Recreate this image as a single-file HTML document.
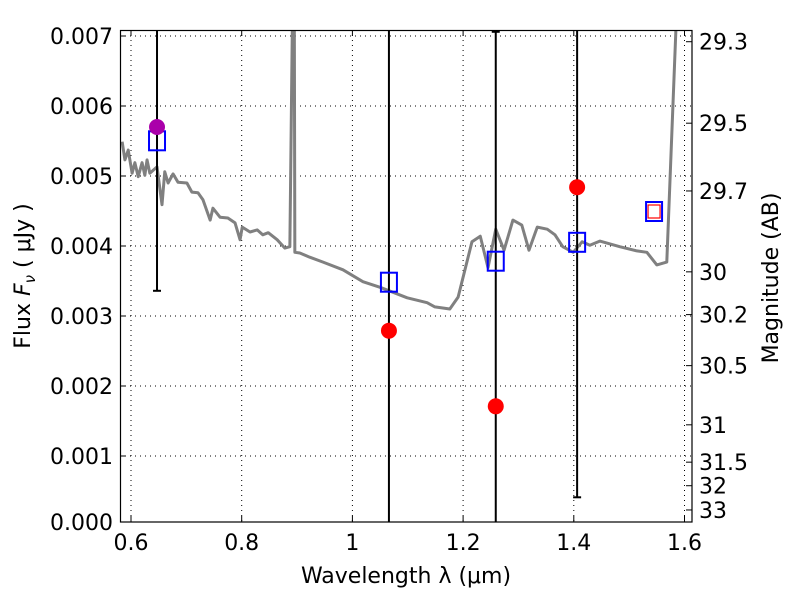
<!DOCTYPE html>
<html><head><meta charset="utf-8"><style>
body{margin:0;background:#fff;}
svg text{font-family:"DejaVu Sans","Liberation Sans",sans-serif;fill:#000;}
</style></head><body>
<svg id="chart" width="800" height="600" xmlns="http://www.w3.org/2000/svg">
<rect x="0" y="0" width="800" height="600" fill="#fff"/>
<g id="grid"></g>
<g id="series"></g>
<rect x="120.5" y="30.5" width="571.5" height="491.5" fill="none" stroke="#000" stroke-width="1.2"/>
<g id="axes"></g>
<text x="406" y="583" font-size="22" text-anchor="middle">Wavelength  λ (μm)</text>
<text transform="translate(30,276) rotate(-90)" font-size="22" text-anchor="middle">Flux  <tspan font-style="italic">F</tspan><tspan font-size="15" dy="5" font-style="italic">ν</tspan><tspan dy="-5">  ( μJy )</tspan></text>
<text transform="translate(778,278) rotate(-90)" font-size="22" text-anchor="middle">Magnitude (AB)</text>
</svg>
<script>
const specWl=[0.584,0.589,0.595,0.602,0.607,0.613,0.620,0.625,0.629,0.634,0.647,0.656,0.661,0.667,0.676,0.685,0.701,0.710,0.721,0.730,0.743,0.748,0.761,0.775,0.788,0.797,0.801,0.815,0.828,0.838,0.848,0.864,0.878,0.887,0.892,0.895,0.896,0.905,0.923,0.947,0.983,1.019,1.050,1.099,1.135,1.149,1.176,1.191,1.216,1.231,1.245,1.259,1.274,1.290,1.306,1.319,1.334,1.352,1.366,1.380,1.399,1.415,1.429,1.447,1.483,1.514,1.532,1.550,1.568,1.586];
const specFlux=[0.00549,0.00523,0.00537,0.00504,0.00519,0.00499,0.00519,0.00501,0.00523,0.00504,0.00513,0.00459,0.00506,0.00490,0.00503,0.00491,0.00490,0.00477,0.00476,0.00466,0.00437,0.00454,0.00441,0.00440,0.00433,0.00409,0.00427,0.00420,0.00423,0.00416,0.00419,0.00409,0.00397,0.00399,0.0075,0.0075,0.00391,0.00390,0.00384,0.00377,0.00366,0.00349,0.00341,0.00326,0.00319,0.00313,0.00310,0.00327,0.00406,0.00414,0.00369,0.00424,0.00394,0.00437,0.00430,0.00394,0.00427,0.00424,0.00416,0.00399,0.00391,0.00406,0.00401,0.00407,0.00399,0.00393,0.00391,0.00373,0.00377,0.0074];
const bandWl=[0.647,1.066,1.259,1.406,1.545];
const modelFlux=[0.00551,0.00349,0.00379,0.00406,0.00450];
const obsWl=[0.647,1.066,1.259,1.406];
const obsFlux=[0.00570,0.00279,0.00171,0.00484];
const obsColors=['#aa00aa','red','red','red'];
const errLo=[0.00336,-0.001,-0.001,0.00041];
const errHi=[0.0075,0.0075,0.00706,0.0075];
const errCapLo=[true,false,false,true];
const errCapHi=[false,false,true,false];
const xTicks=[0.6,0.8,1.0,1.2,1.4,1.6];
const xTickLabels=['0.6','0.8','1','1.2','1.4','1.6'];
const yTicks=[0,0.001,0.002,0.003,0.004,0.005,0.006,0.007];
const yTickLabels=['0.000','0.001','0.002','0.003','0.004','0.005','0.006','0.007'];
const magTicks=[29.3,29.5,29.7,30,30.2,30.5,31,31.5,32,33];
const magTickLabels=['29.3','29.5','29.7','30','30.2','30.5','31','31.5','32','33'];

const NS='http://www.w3.org/2000/svg';
const L=120,R=692,T=30,B=522;
const X=w=>131+(w-0.6)*553.5;
const Y=f=>526-f*70000;
const magFlux=m=>Math.pow(10,(23.9-m)/2.5);
function mk(tag,attrs,parent){const e=document.createElementNS(NS,tag);for(const k in attrs)e.setAttribute(k,attrs[k]);parent.appendChild(e);return e;}
const grid=document.getElementById('grid'),ser=document.getElementById('series'),ax=document.getElementById('axes');
const defs=mk('defs',{},document.getElementById('chart'));
const cp=mk('clipPath',{id:'pc'},defs);mk('rect',{x:L,y:T,width:R-L,height:B-T},cp);
ser.setAttribute('clip-path','url(#pc)');
xTicks.forEach((t,i)=>{
 const x=X(t);
 const g=mk('line',{x1:x,x2:x,y1:T,y2:B,stroke:'#000','stroke-width':1,'stroke-dasharray':'1,4'},grid);
 
 const tk=mk('line',{x1:x,x2:x,y1:B,y2:B-6,stroke:'#000'},ax);
 
 mk('line',{x1:x,x2:x,y1:T,y2:T+6,stroke:'#000'},ax);
 const tx=mk('text',{x:x,y:B+28,'font-size':22,'text-anchor':'middle'},ax);tx.textContent=xTickLabels[i];
 
});
yTicks.forEach((t,i)=>{
 const y=Math.min(Y(t),B);
 if(t>0){const g=mk('line',{x1:L,x2:R,y1:y,y2:y,stroke:'#000','stroke-width':1,'stroke-dasharray':'1,4'},grid);
 }
 const tk=mk('line',{x1:L,x2:L+6,y1:y,y2:y,stroke:'#000'},ax);
 
 const tx=mk('text',{x:L-7,y:y+8,'font-size':22,'text-anchor':'end'},ax);tx.textContent=yTickLabels[i];
 
});
magTicks.forEach((m,i)=>{
 const y=Y(magFlux(m));
 const tk=mk('line',{x1:R,x2:R-6,y1:y,y2:y,stroke:'#000'},ax);
 
 const tx=mk('text',{x:R+7,y:y+8,'font-size':22},ax);tx.textContent=magTickLabels[i];
 
});
const pl=mk('polyline',{points:specWl.map((w,i)=>X(w)+','+Y(specFlux[i])).join(' '),fill:'none',stroke:'#808080','stroke-width':3,'stroke-linejoin':'round'},ser);

obsWl.forEach((w,i)=>{
 const x=X(w);
 const e=mk('line',{x1:x,x2:x,y1:Y(errLo[i]),y2:Y(errHi[i]),stroke:'#000','stroke-width':2},ser);
 
 if(errCapLo[i])mk('line',{x1:x-4,x2:x+4,y1:Y(errLo[i]),y2:Y(errLo[i]),stroke:'#000','stroke-width':2},ser);
 if(errCapHi[i])mk('line',{x1:x-4,x2:x+4,y1:Y(errHi[i]),y2:Y(errHi[i]),stroke:'#000','stroke-width':2},ser);
});
bandWl.forEach((w,i)=>{
 const s=mk('rect',{x:X(w)-8,y:Y(modelFlux[i])-9,width:16,height:19,fill:'none',stroke:'blue','stroke-width':2},ser);
 
});
{const i=4;const s=mk('rect',{x:X(bandWl[i])-6,y:Y(modelFlux[i])-6,width:12,height:13,fill:'none',stroke:'red','stroke-width':1.2},ser);
 }
obsWl.forEach((w,i)=>{
 const c=mk('circle',{cx:X(w),cy:Y(obsFlux[i]),r:8,fill:obsColors[i]},ser);
 
});
</script>
</body></html>
